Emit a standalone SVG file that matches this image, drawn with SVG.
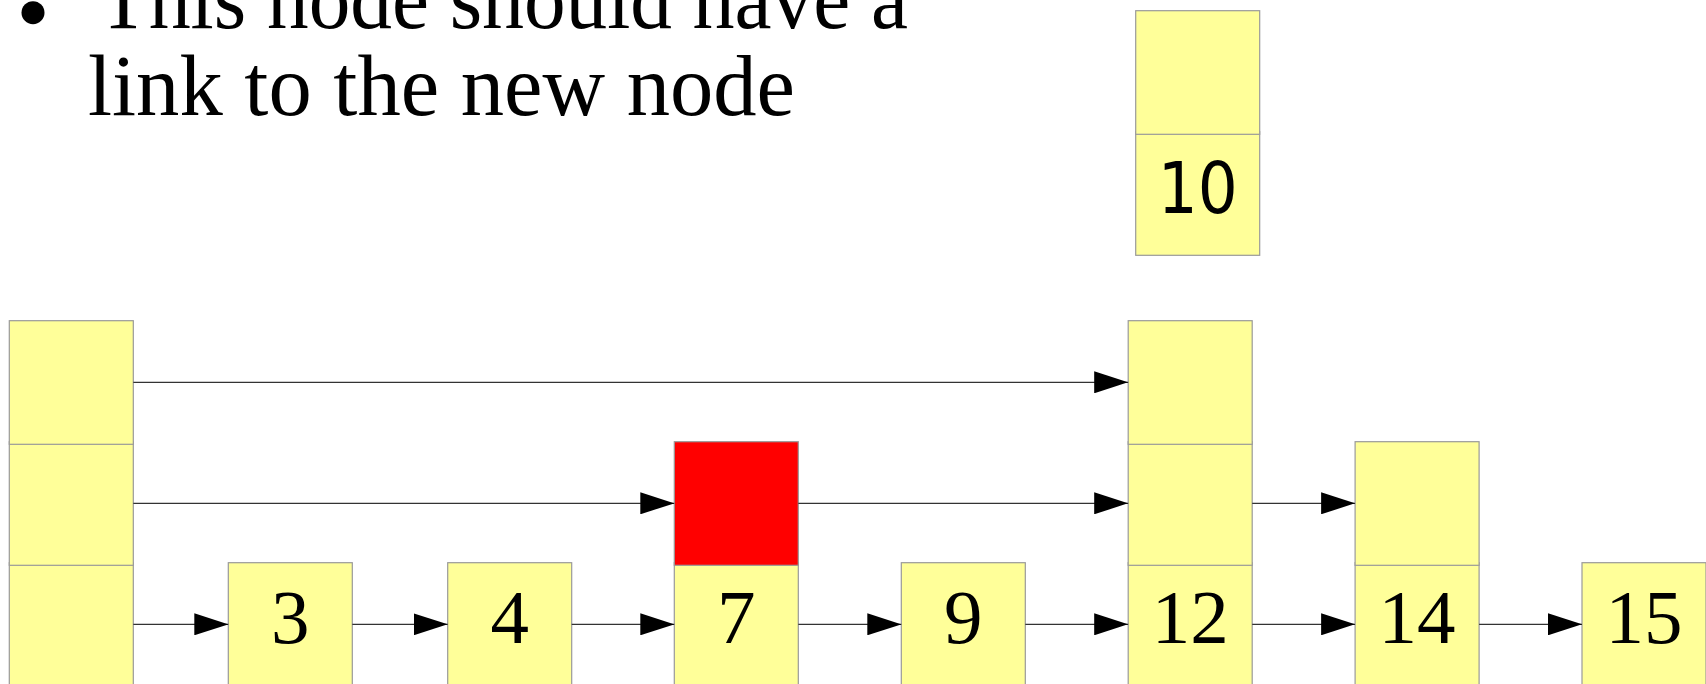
<svg xmlns="http://www.w3.org/2000/svg" width="1706" height="684" viewBox="0 0 1706 684">
  <style>
    .cell { fill: #ffff99; stroke: #9a9a9a; stroke-width: 1.2; }
    .hot { fill: #ff0000; stroke: #9a9a9a; stroke-width: 1.2; }
    .link { stroke: #333333; stroke-width: 1.3; fill: none; marker-end: url(#head); }
    .key { font-family: "Liberation Serif", "DejaVu Serif", serif; font-size: 77px; fill: #000; text-anchor: middle; }
    .key-sans { font-family: "DejaVu Sans", "Liberation Sans", sans-serif; font-size: 72px; fill: #000; text-anchor: middle; }
    .note { font-family: "Liberation Serif", "DejaVu Serif", serif; font-size: 86px; fill: #000; }
  </style>
  <defs>
    <marker id="head" markerUnits="userSpaceOnUse" markerWidth="34" markerHeight="22" refX="34" refY="11" orient="auto">
      <path d="M0,0 L34,11 L0,22 Z" fill="#000"/>
    </marker>
  </defs>

  <rect width="1706" height="684" fill="#ffffff"/>

  <!-- bullet note -->
  <g id="note">
    <circle cx="33" cy="12.7" r="11.5" fill="#000"/>
    <text class="note" x="98" y="28.3" textLength="810" lengthAdjust="spacingAndGlyphs">This node should have a</text>
    <text class="note" x="88" y="115" textLength="707" lengthAdjust="spacingAndGlyphs">link to the new node</text>
  </g>

  <!-- new node being inserted -->
  <g id="node-10">
    <rect class="cell" x="1135.7" y="131.7" width="124" height="123.6"/>
    <rect class="cell" x="1135.7" y="10.7" width="124" height="123.6"/>
    <text class="key-sans" x="1197.7" y="213.3" textLength="80" lengthAdjust="spacingAndGlyphs">10</text>
  </g>

  <!-- head tower, three levels -->
  <g id="node-head">
    <rect class="cell" x="9.3" y="562.7" width="124" height="123.6"/>
    <rect class="cell" x="9.3" y="441.7" width="124" height="123.6"/>
    <rect class="cell" x="9.3" y="320.7" width="124" height="123.6"/>
  </g>

  <g id="node-3">
    <rect class="cell" x="228.3" y="562.7" width="124" height="123.6"/>
    <text class="key" x="290.3" y="643.3">3</text>
  </g>

  <g id="node-4">
    <rect class="cell" x="447.7" y="562.7" width="124" height="123.6"/>
    <text class="key" x="509.7" y="643.3">4</text>
  </g>

  <g id="node-7">
    <rect class="cell" x="674.3" y="562.7" width="124" height="123.6"/>
    <rect class="hot" x="674.3" y="441.7" width="124" height="123.6"/>
    <text class="key" x="736.3" y="643.3">7</text>
  </g>

  <g id="node-9">
    <rect class="cell" x="901.3" y="562.7" width="124" height="123.6"/>
    <text class="key" x="963.3" y="643.3">9</text>
  </g>

  <g id="node-12">
    <rect class="cell" x="1128.2" y="562.7" width="124" height="123.6"/>
    <rect class="cell" x="1128.2" y="441.7" width="124" height="123.6"/>
    <rect class="cell" x="1128.2" y="320.7" width="124" height="123.6"/>
    <text class="key" x="1190.2" y="643.3">12</text>
  </g>

  <g id="node-14">
    <rect class="cell" x="1355.1" y="562.7" width="124" height="123.6"/>
    <rect class="cell" x="1355.1" y="441.7" width="124" height="123.6"/>
    <text class="key" x="1417.1" y="643.3">14</text>
  </g>

  <g id="node-15">
    <rect class="cell" x="1582" y="562.7" width="124" height="123.6"/>
    <text class="key" x="1644" y="643.3">15</text>
  </g>

  <!-- forward pointers -->
  <g id="links">
    <!-- level 3 -->
    <line class="link" x1="133.3" y1="382.3" x2="1128.2" y2="382.3"/>
    <!-- level 2 -->
    <line class="link" x1="133.3" y1="503.3" x2="674.3" y2="503.3"/>
    <line class="link" x1="798.3" y1="503.3" x2="1128.2" y2="503.3"/>
    <line class="link" x1="1252.2" y1="503.3" x2="1355.1" y2="503.3"/>
    <!-- level 1 -->
    <line class="link" x1="133.3" y1="624.3" x2="228.3" y2="624.3"/>
    <line class="link" x1="352.3" y1="624.3" x2="447.7" y2="624.3"/>
    <line class="link" x1="571.7" y1="624.3" x2="674.3" y2="624.3"/>
    <line class="link" x1="798.3" y1="624.3" x2="901.3" y2="624.3"/>
    <line class="link" x1="1025.3" y1="624.3" x2="1128.2" y2="624.3"/>
    <line class="link" x1="1252.2" y1="624.3" x2="1355.1" y2="624.3"/>
    <line class="link" x1="1479.1" y1="624.3" x2="1582" y2="624.3"/>
  </g>
</svg>
